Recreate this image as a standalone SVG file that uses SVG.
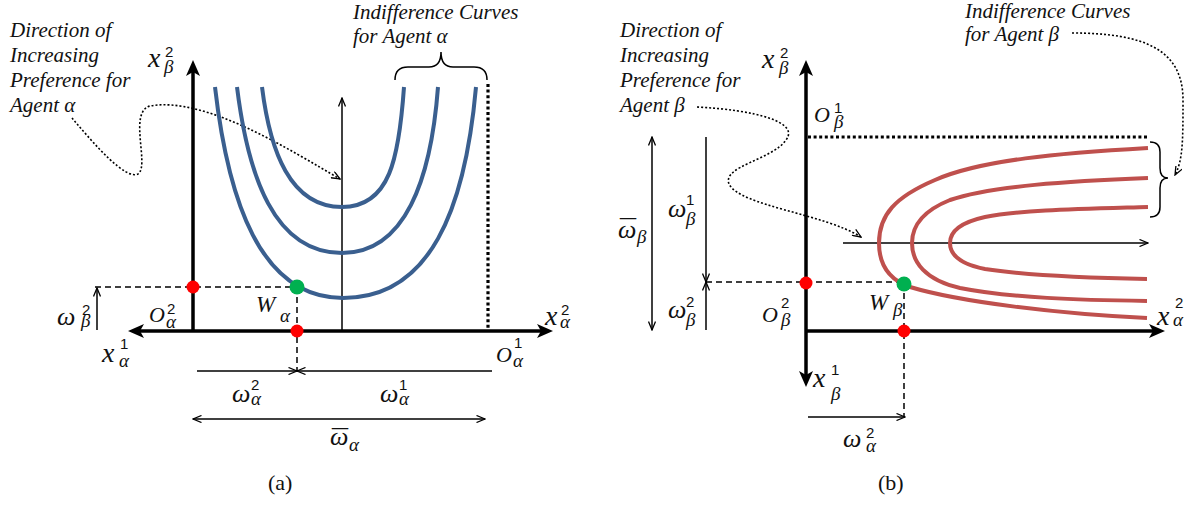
<svg xmlns="http://www.w3.org/2000/svg" width="1197" height="508" viewBox="0 0 1197 508">
<style>
.bg{fill:#fff}
.ax{stroke:#000;stroke-width:3.5;fill:none}
.thin{stroke:#000;stroke-width:1.5;fill:none}
.dash{stroke:#000;stroke-width:1.5;fill:none;stroke-dasharray:6 4}
.dot{stroke:#000;stroke-width:1.6;fill:none;stroke-dasharray:2 2}
.bdot{stroke:#000;stroke-width:3.2;fill:none;stroke-dasharray:3 2.6}
.blue{stroke:#3A5F8F;stroke-width:4;fill:none}
.red{stroke:#BF504D;stroke-width:4;fill:none}
.rd{fill:#FF0000}
.gd{fill:#00B050}
.note{font-family:"Liberation Serif",serif;font-style:italic;font-size:21px;fill:#111}
.m{font-family:"Liberation Serif",serif;font-style:italic;fill:#111}
.mx{font-size:28px}
.mo{font-size:22px}
.mw{font-size:26px}
.mW{font-size:23px}
.bar{font-family:"Liberation Serif",serif;font-size:26px;fill:#111}
.n{font-family:"Liberation Sans",sans-serif;font-size:15px;fill:#111}
.s{font-family:"Liberation Serif",serif;font-style:italic;font-size:19px;fill:#111}
.cap{font-family:"Liberation Serif",serif;font-size:22px;fill:#111}
</style>
<defs>
<marker id="ahK" viewBox="0 0 16 14" refX="10" refY="7" markerWidth="16" markerHeight="14" markerUnits="userSpaceOnUse" orient="auto-start-reverse">
<path d="M0,0 L16,7 L0,14 L4,7 Z" fill="#000"/>
</marker>
<marker id="ahT" viewBox="0 0 10 8" refX="9" refY="4" markerWidth="10" markerHeight="8" markerUnits="userSpaceOnUse" orient="auto-start-reverse">
<path d="M0.5,0.5 L9,4 L0.5,7.5" fill="none" stroke="#000" stroke-width="1.3"/>
</marker>
</defs>
<rect class="bg" x="0" y="0" width="1197" height="508"/>

<g id="connectors">
<line class="bdot" x1="488" y1="84" x2="488" y2="330"/>
<line class="dash" x1="95" y1="287" x2="297" y2="287"/>
<line class="dash" x1="297" y1="287" x2="297" y2="371"/>
<line class="thin" x1="342" y1="331" x2="342" y2="98" marker-end="url(#ahT)"/>
<line class="thin" x1="97" y1="330" x2="97" y2="288" marker-end="url(#ahT)"/>
<line class="thin" x1="197" y1="371" x2="297" y2="371" marker-end="url(#ahT)"/>
<line class="thin" x1="492" y1="371" x2="297" y2="371" marker-end="url(#ahT)"/>
<line class="thin" x1="193" y1="419" x2="485" y2="419" marker-start="url(#ahT)" marker-end="url(#ahT)"/>
<path class="dot" d="M72 118 C95 145,125 180,138 174 C150 166,128 112,150 106 C205 96,290 150,340 179" marker-end="url(#ahT)"/>
<path class="thin" d="M395 80 Q395 67 408 67 L429 67 Q441 67 441 52 Q441 67 453 67 L474 67 Q487 67 487 80"/>
<line class="ax" x1="193" y1="331" x2="193" y2="66" marker-end="url(#ahK)"/>
<line class="ax" x1="134" y1="331" x2="547" y2="331" marker-start="url(#ahK)" marker-end="url(#ahK)"/>
<line class="bdot" x1="808" y1="137" x2="1147" y2="137"/>
<line class="dash" x1="706" y1="282" x2="904" y2="282"/>
<line class="dash" x1="904" y1="283" x2="904" y2="417"/>
<line class="thin" x1="843" y1="243" x2="1148" y2="243" marker-end="url(#ahT)"/>
<line class="thin" x1="808" y1="417" x2="905" y2="417" marker-end="url(#ahT)"/>
<line class="thin" x1="652" y1="137" x2="652" y2="330" marker-start="url(#ahT)" marker-end="url(#ahT)"/>
<line class="thin" x1="706" y1="137" x2="706" y2="282" marker-end="url(#ahT)"/>
<line class="thin" x1="706" y1="330" x2="706" y2="282" marker-end="url(#ahT)"/>
<path class="dot" d="M697 107 C755 110,800 122,786 140 C772 160,722 166,729 184 C740 206,825 214,861 237" marker-end="url(#ahT)"/>
<path class="dot" d="M1072 33 C1145 33,1183 50,1183 100 C1183 140,1183 160,1175 175" marker-end="url(#ahT)"/>
<path class="thin" d="M1150 142 Q1160 142 1160 152 L1160 168 Q1160 178 1168 178 Q1160 178 1160 188 L1160 207 Q1160 217 1150 217"/>
<line class="ax" x1="806" y1="331" x2="1159" y2="331" marker-end="url(#ahK)"/>
<line class="ax" x1="806" y1="66" x2="806" y2="381" marker-start="url(#ahK)" marker-end="url(#ahK)"/>
</g>

<g id="curves-alpha">
<path class="blue" d="M215 87 C228 200,260 298,343 298 C430 298,465 210,476 87"/>
<path class="blue" d="M237 87 C248 176,274 253,342 253 C405 253,431 180,438 87"/>
<path class="blue" d="M262 87 C270 151,290 207,342 207 C390 207,399 158,404 87"/>
</g>

<g id="curves-beta">
<path class="red" d="M1148 148 C1060 153,980 160,935 180 C895 197,879 215,879 243 C879 265,890 280,910 287 C960 302,1060 314,1147 318"/>
<path class="red" d="M1148 178 C1070 181,990 186,950 200 C920 212,912 228,912 243 C912 262,925 280,960 288 C1010 298,1080 300,1147 301"/>
<path class="red" d="M1148 207 C1080 209,1020 210,985 217 C958 223,950 233,950 243 C950 255,960 264,985 269 C1030 276,1090 278,1147 279"/>
</g>

<g id="points">
<circle class="rd" cx="193" cy="287" r="6.5"/>
<circle class="gd" cx="297" cy="287" r="7.5"/>
<circle class="rd" cx="297" cy="331" r="6.5"/>
<circle class="rd" cx="806" cy="283" r="6.5"/>
<circle class="gd" cx="904" cy="284" r="7.5"/>
<circle class="rd" cx="904" cy="331" r="6.5"/>
</g>

<g id="notes">
<text class="note"><tspan x="10" y="37">Direction of</tspan><tspan x="10" y="62">Increasing</tspan><tspan x="10" y="87">Preference for</tspan><tspan x="10" y="112">Agent α</tspan></text>
<text class="note"><tspan x="353" y="19">Indifference Curves</tspan><tspan x="353" y="43">for Agent α</tspan></text>
<text class="note"><tspan x="620" y="37">Direction of</tspan><tspan x="620" y="62">Increasing</tspan><tspan x="620" y="87">Preference for</tspan><tspan x="620" y="112">Agent β</tspan></text>
<text class="note"><tspan x="965" y="18">Indifference Curves</tspan><tspan x="965" y="41">for Agent β</tspan></text>
</g>

<g id="labels-a">
<text class="m mx" x="148" y="67">x</text><text class="n" x="165" y="57">2</text><text class="s" x="164" y="73">β</text>
<text class="m mx" x="102" y="362">x</text><text class="n" x="120" y="349">1</text><text class="s" x="119" y="367">α</text>
<text class="m mo" x="149" y="322">O</text><text class="n" x="167" y="314">2</text><text class="s" x="166" y="328">α</text>
<text class="m mW" x="256" y="312">W</text><text class="s" x="280" y="322">α</text>
<text class="m mw" x="57" y="325">ω</text><text class="n" x="82" y="315">2</text><text class="s" x="81" y="327">β</text>
<text class="m mx" x="545" y="325">x</text><text class="n" x="561" y="315">2</text><text class="s" x="560" y="328">α</text>
<text class="m mo" x="496" y="362">O</text><text class="n" x="514" y="348">1</text><text class="s" x="513" y="367">α</text>
<text class="m mw" x="232" y="402">ω</text><text class="n" x="251" y="390">2</text><text class="s" x="251" y="405">α</text>
<text class="m mw" x="380" y="402">ω</text><text class="n" x="399" y="390">1</text><text class="s" x="399" y="405">α</text>
<text class="bar" x="332" y="447" textLength="16" lengthAdjust="spacingAndGlyphs">¯</text><text class="m mw" x="330" y="445">ω</text><text class="s" x="349" y="451">α</text>
<text class="cap" x="268" y="490">(a)</text>
</g>

<g id="labels-b">
<text class="m mx" x="762" y="68">x</text><text class="n" x="780" y="58">2</text><text class="s" x="779" y="74">β</text>
<text class="m mo" x="814" y="122">O</text><text class="n" x="834" y="113">1</text><text class="s" x="834" y="128">β</text>
<text class="m mo" x="762" y="322">O</text><text class="n" x="781" y="308">2</text><text class="s" x="781" y="326">β</text>
<text class="m mW" x="869" y="310">W</text><text class="s" x="893" y="316">β</text>
<text class="m mx" x="813" y="387">x</text><text class="n" x="831" y="375">1</text><text class="s" x="831" y="400">β</text>
<text class="m mx" x="1157" y="325">x</text><text class="n" x="1175" y="308">2</text><text class="s" x="1173" y="326">α</text>
<text class="bar" x="620" y="237" textLength="16" lengthAdjust="spacingAndGlyphs">¯</text><text class="m mw" x="618" y="238">ω</text><text class="s" x="637" y="243">β</text>
<text class="m mw" x="668" y="217">ω</text><text class="n" x="686" y="205">1</text><text class="s" x="686" y="225">β</text>
<text class="m mw" x="668" y="318">ω</text><text class="n" x="686" y="307">2</text><text class="s" x="686" y="326">β</text>
<text class="m mw" x="843" y="447">ω</text><text class="n" x="866" y="438">2</text><text class="s" x="866" y="452">α</text>
<text class="cap" x="878" y="490">(b)</text>
</g>
</svg>
